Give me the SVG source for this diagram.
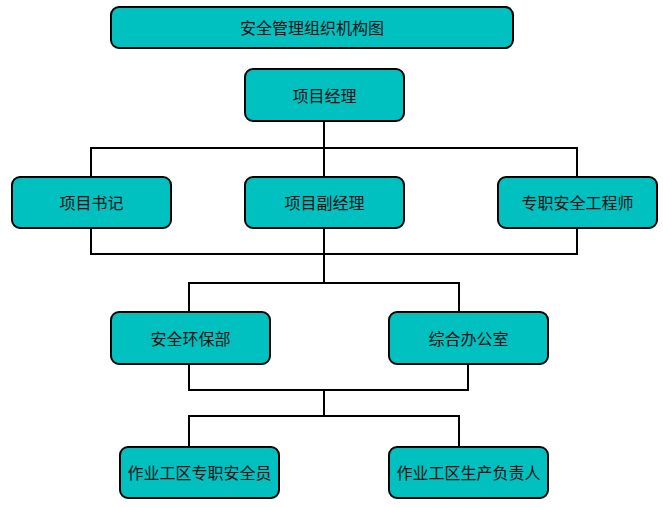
<svg xmlns="http://www.w3.org/2000/svg" width="663" height="507" viewBox="0 0 663 507">
<style>
.box{fill:#00C0C0;stroke:#000;stroke-width:2}
.lbl{font-family:"Noto Sans CJK SC","Noto Sans",sans-serif;font-size:16px;fill:#111;text-anchor:middle;dominant-baseline:central}
.ln{fill:none;stroke:#000;stroke-width:2}
</style>
<rect width="663" height="507" fill="#fff"/>
<g id="connectors">
<path class="ln" d="M324 121V282"/>
<path class="ln" d="M91 177V148H577V177"/>
<path class="ln" d="M91 228V254H577V228"/>
<path class="ln" d="M189 312V283H459V312"/>
<path class="ln" d="M189 364V390H468V364"/>
<path class="ln" d="M324 390V416"/>
<path class="ln" d="M189 447V416H459V447"/>
</g>
<g id="title"><rect class="box" x="111" y="7" width="402" height="41" rx="8"/><text class="lbl" x="312" y="27">安全管理组织机构图</text></g>
<g id="pm"><rect class="box" x="245" y="69" width="159" height="52" rx="8"/><text class="lbl" x="324.5" y="94.5">项目经理</text></g>
<g id="secretary"><rect class="box" x="12" y="177" width="159" height="51" rx="8"/><text class="lbl" x="91.5" y="202">项目书记</text></g>
<g id="deputy"><rect class="box" x="245" y="177" width="159" height="51" rx="8"/><text class="lbl" x="324.5" y="202">项目副经理</text></g>
<g id="engineer"><rect class="box" x="498" y="177" width="159" height="51" rx="8"/><text class="lbl" x="577.5" y="202">专职安全工程师</text></g>
<g id="safety"><rect class="box" x="111" y="312" width="159" height="52" rx="8"/><text class="lbl" x="190.5" y="337.5">安全环保部</text></g>
<g id="office"><rect class="box" x="389" y="312" width="159" height="52" rx="8"/><text class="lbl" x="468.5" y="337.5">综合办公室</text></g>
<g id="officer"><rect class="box" x="120" y="447" width="159" height="51" rx="8"/><text class="lbl" x="199.5" y="472">作业工区专职安全员</text></g>
<g id="production"><rect class="box" x="389" y="447" width="159" height="51" rx="8"/><text class="lbl" x="468.5" y="472">作业工区生产负责人</text></g>
</svg>
